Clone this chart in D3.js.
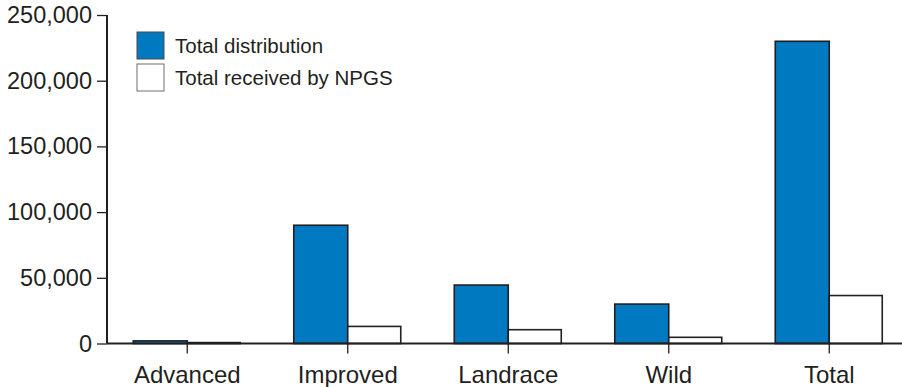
<!DOCTYPE html>
<html><head><meta charset="utf-8">
<script src="https://cdn.jsdelivr.net/npm/d3@7"></script>
<style>
html,body{margin:0;padding:0;background:#fff;}
svg{display:block;font-family:"Liberation Sans",Arial,Helvetica,sans-serif;}
</style></head>
<body>
<svg id="chart" width="902" height="387"></svg>
<script>
const categories = ["Advanced", "Improved", "Landrace", "Wild", "Total"];
const totalDistribution = [2000, 90000, 44500, 30000, 230000];
const totalReceived = [700, 13000, 10500, 4700, 36500];
const seriesNames = ["Total distribution", "Total received by NPGS"];
const yTicks = [0, 50000, 100000, 150000, 200000, 250000];

const ink = "#231f20";
const blue = "#0079c1";
const svg = d3.select("#chart");

const x = d3.scaleBand().domain(categories).range([107, 909.5]).paddingInner(0).paddingOuter(0);
const y = d3.scaleLinear().domain([0, 250000]).range([343.5, 15]);
const barW = 54;

// bars
const g = svg.append("g");
categories.forEach((c, i) => {
  const cx = x(c) + x.bandwidth() / 2;
  g.append("rect").attr("x", cx - barW).attr("y", y(totalDistribution[i]))
    .attr("width", barW).attr("height", y(0) - y(totalDistribution[i]))
    .attr("fill", blue).attr("stroke", ink).attr("stroke-width", 1.6);
  g.append("rect").attr("x", cx).attr("y", y(totalReceived[i]))
    .attr("width", barW - 1).attr("height", y(0) - y(totalReceived[i]))
    .attr("fill", "#fff").attr("stroke", ink).attr("stroke-width", 1.6);
});

// y axis
const yAxis = svg.append("g").attr("transform", "translate(107,0)")
  .call(d3.axisLeft(y).tickValues(yTicks).tickSize(10).tickPadding(5).tickFormat(d3.format(",")));
yAxis.select(".domain").attr("stroke", ink).attr("stroke-width", 2).attr("d", "M0," + y(250000) + "V" + y(0));
yAxis.selectAll(".tick line").attr("stroke", ink).attr("stroke-width", 1.3);
yAxis.selectAll(".tick text").attr("fill", ink).style("font-size", "23.5px")
  .style("font-family", "'Liberation Sans',Arial,sans-serif");

// x axis
const xAxis = svg.append("g").attr("transform", "translate(0," + y(0) + ")")
  .call(d3.axisBottom(x).tickSize(10).tickPadding(12));
xAxis.select(".domain").attr("stroke", ink).attr("stroke-width", 2).attr("d", "M107,0H902");
xAxis.selectAll(".tick line").attr("stroke", ink).attr("stroke-width", 1.3);
xAxis.selectAll(".tick text").attr("fill", ink).style("font-size", "24px")
  .style("font-family", "'Liberation Sans',Arial,sans-serif");

// legend
const legend = svg.append("g").attr("transform", "translate(137,32)");
const fills = [blue, "#fff"];
seriesNames.forEach((n, i) => {
  const row = legend.append("g").attr("transform", "translate(0," + (i * 32) + ")");
  row.append("rect").attr("x", 0).attr("y", 0).attr("width", 27).attr("height", 27)
    .attr("fill", fills[i]).attr("stroke", i === 0 ? "#4a4a4a" : "#6d6d6d").attr("stroke-width", 1);
  row.append("text").attr("x", 38).attr("y", 21).attr("fill", ink)
    .style("font-size", "20.5px").text(n);
});
</script>
</body></html>
